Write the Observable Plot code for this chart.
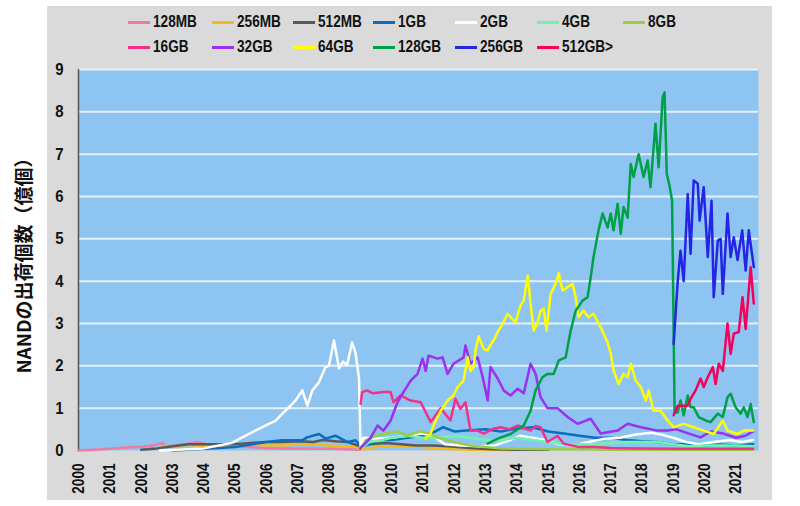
<!DOCTYPE html>
<html><head><meta charset="utf-8">
<script src="https://cdn.jsdelivr.net/npm/d3@7"></script>
<script src="https://cdn.jsdelivr.net/npm/@observablehq/plot@0.6"></script>
<style>
body{margin:0;background:#fff;}
#wrap{position:relative;width:800px;height:506px;overflow:hidden;}
#bg{position:absolute;left:47px;top:6px;width:725px;height:494px;background:#dadada;}
#legend{position:relative;height:60px;}
.item{position:absolute;display:flex;align-items:center;height:20px;font:bold 17px "Liberation Sans",Arial,sans-serif;color:#111;white-space:nowrap;}
.item .t{display:inline-block;transform:scaleX(0.8);transform-origin:0 50%;}
.sw{width:22px;height:3px;margin-right:3px;}
#chart{position:relative;}
#ytitle{position:absolute;left:22px;top:261px;transform:translate(-50%,-50%) rotate(-90deg);font:bold 19px "Noto Sans CJK JP",sans-serif;color:#111;white-space:nowrap;}
</style></head>
<body>
<div id="wrap">
<div id="bg"></div>
<div id="legend"></div>
<div id="chart"></div>
<div id="ytitle">NANDの出荷個数（億個）</div>
</div>
<script>
const seriesNames = ["128MB","256MB","512MB","1GB","2GB","4GB","8GB","16GB","32GB","64GB","128GB","256GB","512GB>"];
const seriesColors = ["#f07aa0","#f5b91e","#595959","#0b6cc0","#ffffff","#6ff5a8","#9acd47","#f2318a","#9b30f0","#ffff00","#00a047","#2525e6","#f5005a"];
const xTicks = d3.range(2000, 2022);
const yTicks = d3.range(0, 10);

const d128MB = [[2000.0,0],[2000.5,0.02],[2001.0,0.04],[2001.5,0.07],[2002.0,0.09],[2002.4,0.12],[2002.67,0.18],[2002.8,0.1],[2003.1,0.12],[2003.5,0.16],[2003.8,0.2],[2004.1,0.15],[2004.5,0.13],[2005.0,0.1],[2005.5,0.08],[2006.0,0.06],[2006.5,0.05],[2007.0,0.05],[2007.5,0.04],[2008.0,0.04],[2008.5,0.03],[2009.0,0.02]];
const d256MB = [[2002.6,0.05],[2002.8,0.12],[2003.0,0.08],[2003.5,0.06],[2004.0,0.08],[2004.5,0.1],[2005.0,0.12],[2005.5,0.14],[2006.0,0.12],[2006.5,0.12],[2007.0,0.14],[2007.5,0.15],[2008.0,0.12],[2008.5,0.1],[2008.9,0.08],[2009.05,0.03],[2009.5,0.08],[2010.0,0.1],[2010.5,0.1],[2011.0,0.08],[2011.5,0.05],[2012.0,0.03],[2012.5,0.02],[2013.0,0.02],[2014.0,0.01]];
const d512MB = [[2002.0,0.02],[2002.5,0.05],[2003.0,0.1],[2003.5,0.15],[2004.0,0.15],[2004.5,0.15],[2005.0,0.15],[2005.5,0.18],[2006.0,0.2],[2006.5,0.2],[2007.0,0.22],[2007.5,0.2],[2007.8,0.25],[2008.2,0.22],[2008.6,0.2],[2009.0,0.1],[2009.3,0.15],[2009.8,0.18],[2010.3,0.15],[2010.8,0.12],[2011.3,0.12],[2011.8,0.1],[2012.5,0.06],[2013.2,0.03],[2014.0,0.02],[2015.0,0.02]];
const d1GB = [[2003.0,0],[2003.5,0.02],[2004.0,0.04],[2004.5,0.06],[2005.0,0.08],[2005.65,0.16],[2006.0,0.2],[2006.5,0.24],[2007.15,0.24],[2007.3,0.31],[2007.68,0.39],[2007.9,0.28],[2008.2,0.35],[2008.6,0.2],[2008.85,0.24],[2009.02,0.1],[2009.3,0.15],[2009.6,0.25],[2010.0,0.25],[2010.5,0.3],[2011.0,0.35],[2011.4,0.45],[2011.65,0.55],[2012.0,0.45],[2012.5,0.48],[2013.0,0.5],[2013.5,0.45],[2014.0,0.52],[2014.5,0.55],[2015.0,0.45],[2015.5,0.4],[2016.0,0.35],[2016.5,0.3],[2017.0,0.3],[2017.5,0.25],[2018.0,0.22],[2018.5,0.2],[2019.0,0.15],[2019.5,0.15],[2020.0,0.12],[2020.5,0.14],[2021.0,0.12],[2021.55,0.15]];
const d2GB = [[2002.6,0],[2003.0,0.01],[2003.5,0.03],[2004.0,0.05],[2004.48,0.12],[2004.9,0.18],[2005.23,0.31],[2005.65,0.47],[2006.08,0.63],[2006.29,0.7],[2006.51,0.87],[2006.72,1.02],[2006.93,1.18],[2007.15,1.42],[2007.31,1.06],[2007.47,1.42],[2007.68,1.61],[2007.89,1.97],[2008.0,2.0],[2008.16,2.6],[2008.32,1.94],[2008.45,2.1],[2008.58,2.02],[2008.74,2.55],[2008.85,2.3],[2008.96,1.7],[2009.01,0.05],[2009.1,0.3],[2009.5,0.28],[2010.0,0.3],[2010.5,0.35],[2011.0,0.4],[2011.3,0.35],[2011.7,0.15],[2012.2,0.12],[2012.8,0.1],[2013.3,0.12],[2013.8,0.25],[2014.1,0.35],[2014.5,0.3],[2014.9,0.25],[2015.3,0.15],[2015.8,0.12],[2016.3,0.2],[2016.8,0.28],[2017.3,0.3],[2017.8,0.38],[2018.3,0.42],[2018.6,0.38],[2019.0,0.3],[2019.4,0.2],[2019.8,0.15],[2020.3,0.2],[2020.8,0.25],[2021.2,0.2],[2021.55,0.25]];
const d4GB = [[2009.0,0.05],[2009.3,0.2],[2009.7,0.25],[2010.0,0.3],[2010.5,0.35],[2011.0,0.3],[2011.5,0.3],[2012.0,0.35],[2012.5,0.3],[2013.0,0.25],[2013.5,0.25],[2014.0,0.3],[2014.5,0.25],[2015.0,0.2],[2015.5,0.15],[2016.0,0.15],[2016.5,0.15],[2017.0,0.18],[2017.5,0.2],[2018.0,0.2],[2018.5,0.2],[2019.0,0.15],[2019.5,0.1],[2020.0,0.12],[2020.5,0.12],[2021.0,0.12],[2021.55,0.1]];
const d8GB = [[2009.0,0.05],[2009.2,0.25],[2009.5,0.35],[2009.8,0.4],[2010.2,0.45],[2010.5,0.35],[2010.9,0.45],[2011.2,0.4],[2011.5,0.3],[2012.0,0.2],[2012.5,0.12],[2013.0,0.08],[2013.5,0.05],[2014.0,0.04],[2015.0,0.03],[2016.0,0.03],[2017.0,0.02],[2018.0,0.02],[2019.0,0.02],[2020.0,0.02],[2021.55,0.02]];
const d16GB = [[2009.01,1.1],[2009.06,1.38],[2009.22,1.42],[2009.4,1.35],[2009.74,1.38],[2009.97,1.38],[2010.06,1.14],[2010.29,1.3],[2010.61,1.18],[2010.93,1.14],[2011.25,0.67],[2011.57,1.0],[2011.88,0.71],[2012.04,1.22],[2012.2,0.98],[2012.36,1.14],[2012.52,0.47],[2012.75,0.47],[2012.94,0.4],[2013.2,0.5],[2013.48,0.55],[2013.75,0.5],[2014.03,0.59],[2014.25,0.52],[2014.44,0.47],[2014.6,0.58],[2014.76,0.55],[2014.98,0.2],[2015.3,0.35],[2015.5,0.16],[2016.0,0.08],[2016.5,0.08],[2017.0,0.06],[2018.0,0.05],[2019.0,0.04],[2020.0,0.04],[2021.0,0.04],[2021.55,0.04]];
const d32GB = [[2009.0,0.05],[2009.06,0.1],[2009.33,0.3],[2009.55,0.59],[2009.74,0.47],[2009.97,0.71],[2010.19,1.14],[2010.38,1.38],[2010.61,1.65],[2010.83,1.81],[2010.99,2.17],[2011.09,1.88],[2011.18,2.24],[2011.47,2.17],[2011.63,2.2],[2011.79,1.81],[2011.98,2.05],[2012.3,2.2],[2012.36,2.48],[2012.52,2.05],[2012.75,2.2],[2012.91,1.73],[2013.07,1.18],[2013.16,1.97],[2013.39,1.7],[2013.58,1.42],[2013.8,1.3],[2014.03,1.46],[2014.22,1.35],[2014.44,2.05],[2014.6,1.81],[2014.76,1.26],[2014.98,1.0],[2015.3,1.0],[2015.62,0.79],[2015.94,0.63],[2016.36,0.75],[2016.68,0.4],[2017.22,0.47],[2017.54,0.63],[2017.96,0.55],[2018.5,0.47],[2018.82,0.47],[2019.1,0.5],[2019.5,0.4],[2019.87,0.31],[2020.2,0.45],[2020.6,0.4],[2021.0,0.3],[2021.3,0.35],[2021.55,0.45]];
const d64GB = [[2011.09,0.28],[2011.25,0.4],[2011.34,0.59],[2011.57,0.94],[2011.79,1.18],[2011.98,1.3],[2012.11,1.5],[2012.3,1.65],[2012.43,2.2],[2012.52,1.88],[2012.62,1.97],[2012.68,2.36],[2012.78,2.7],[2012.94,2.4],[2013.07,2.36],[2013.16,2.5],[2013.26,2.6],[2013.39,2.8],[2013.55,3.0],[2013.71,3.23],[2013.96,3.03],[2014.12,3.43],[2014.22,3.54],[2014.35,4.13],[2014.44,3.47],[2014.54,2.83],[2014.66,3.0],[2014.76,3.3],[2014.86,3.35],[2014.95,2.83],[2015.08,3.7],[2015.24,3.94],[2015.34,4.19],[2015.46,3.78],[2015.62,3.86],[2015.78,3.94],[2015.88,3.62],[2015.97,3.15],[2016.13,3.3],[2016.29,3.15],[2016.45,3.23],[2016.68,2.91],[2016.9,2.55],[2017.0,2.3],[2017.09,1.9],[2017.25,1.57],[2017.41,1.81],[2017.54,1.73],[2017.64,2.05],[2017.8,1.65],[2017.96,1.5],[2018.12,1.18],[2018.21,1.42],[2018.37,0.94],[2018.59,0.94],[2018.82,0.71],[2019.01,0.55],[2019.33,0.63],[2019.65,0.55],[2019.97,0.47],[2020.29,0.39],[2020.58,0.71],[2020.73,0.47],[2021.05,0.39],[2021.25,0.47],[2021.55,0.47]];
const d128GB = [[2013.07,0.16],[2013.39,0.28],[2013.8,0.39],[2014.22,0.59],[2014.44,0.94],[2014.6,1.42],[2014.82,1.73],[2014.98,1.81],[2015.18,1.81],[2015.34,2.13],[2015.56,2.2],[2015.72,2.83],[2015.88,3.3],[2016.1,3.54],[2016.26,3.62],[2016.36,4.09],[2016.45,4.57],[2016.61,5.2],[2016.74,5.6],[2016.9,5.27],[2017.0,5.6],[2017.09,5.2],[2017.22,5.83],[2017.32,5.12],[2017.41,5.75],[2017.54,5.5],[2017.64,6.77],[2017.73,6.46],[2017.89,7.0],[2018.05,6.46],[2018.18,6.85],[2018.27,6.22],[2018.43,7.72],[2018.53,6.69],[2018.66,8.35],[2018.72,8.46],[2018.79,6.54],[2018.88,6.25],[2018.96,5.9],[2019.04,0.9],[2019.14,0.9],[2019.23,1.18],[2019.33,0.83],[2019.46,1.3],[2019.55,1.02],[2019.65,1.02],[2019.81,0.79],[2020.03,0.71],[2020.19,0.67],[2020.42,0.87],[2020.58,0.79],[2020.73,1.26],[2020.83,1.34],[2020.99,1.02],[2021.15,0.87],[2021.25,1.02],[2021.37,0.79],[2021.47,1.1],[2021.57,0.67]];
const d256GB = [[2019.01,2.52],[2019.14,4.0],[2019.23,4.72],[2019.33,4.0],[2019.46,6.06],[2019.55,4.65],[2019.65,6.38],[2019.78,6.3],[2019.84,5.43],[2019.97,6.22],[2020.1,4.57],[2020.22,5.9],[2020.29,3.62],[2020.42,4.96],[2020.51,5.0],[2020.58,3.7],[2020.73,5.6],[2020.83,4.57],[2020.93,5.04],[2021.05,4.5],[2021.2,5.2],[2021.31,4.25],[2021.41,5.2],[2021.57,4.33]];
const d512GB = [[2019.01,0.83],[2019.14,1.06],[2019.46,1.06],[2019.55,1.22],[2019.71,1.42],[2019.87,1.7],[2019.97,1.5],[2020.1,1.73],[2020.26,1.97],[2020.35,1.57],[2020.45,2.05],[2020.58,1.88],[2020.73,3.0],[2020.83,2.28],[2020.93,2.76],[2021.09,2.8],[2021.21,3.62],[2021.31,2.87],[2021.47,4.33],[2021.57,3.47]];

const seriesData = [d128MB,d256MB,d512MB,d1GB,d2GB,d4GB,d8GB,d16GB,d32GB,d64GB,d128GB,d256GB,d512GB];
const table = seriesData.flatMap((arr, i) => arr.map(([year, value]) => ({series: seriesNames[i], year, value})));

// legend
const legend = document.getElementById("legend");
const colX = [128, 212, 293, 373, 455, 537, 623];
seriesNames.forEach((name, i) => {
  const row = i < 7 ? 0 : 1;
  const col = i < 7 ? i : i - 7;
  const el = document.createElement("div");
  el.className = "item";
  el.style.left = colX[col] + "px";
  el.style.top = (row === 0 ? 12 : 37) + "px";
  const sw = document.createElement("span");
  sw.className = "sw";
  sw.style.background = seriesColors[i];
  el.appendChild(sw);
  const t = document.createElement("span");
  t.className = "t";
  t.textContent = name;
  el.appendChild(t);
  legend.appendChild(el);
});

const fontStack = '"Liberation Sans",Arial,sans-serif';
const chart = Plot.plot({
  width: 800,
  height: 446,
  marginLeft: 78,
  marginRight: 42,
  marginTop: 9,
  marginBottom: 56,
  x: {domain: [2000, 2021.72]},
  y: {domain: [0, 9]},
  color: {domain: seriesNames, range: seriesColors},
  style: {background: "transparent", fontFamily: fontStack, fontSize: "17px", fontWeight: "bold", color: "#111"},
  marks: [
    Plot.frame({fill: "#8ec4f2", stroke: null}),
    Plot.ruleY(yTicks.filter(d => d > 0), {stroke: "#e4f0fb", strokeWidth: 2}),
    Plot.ruleX([2000], {stroke: "#555", strokeWidth: 1.5}),
    Plot.axisY({ticks: yTicks, tickSize: 0, tickPadding: 15, label: null, fontSize: 17, tickFormat: d => String(d)}),
    Plot.axisX({ticks: xTicks, tickSize: 0, tickPadding: 13, tickRotate: -90, label: null, fontSize: 17, tickFormat: d => String(d)}),
    Plot.line(table, {x: "year", y: "value", z: "series", stroke: "series", strokeWidth: 2.5, strokeLinejoin: "round"})
  ]
});

// condense tick label glyphs along their reading direction
function squeeze(sel, s) {
  sel.each(function () {
    const t = this.getAttribute("transform");
    if (t) {
      this.setAttribute("transform", t + ` scale(${s},1)`);
    } else {
      const x = +this.getAttribute("x") || 0, y = +this.getAttribute("y") || 0;
      this.removeAttribute("x"); this.removeAttribute("y");
      this.setAttribute("transform", `translate(${x},${y}) scale(${s},1)`);
    }
  });
}
squeeze(d3.select(chart).selectAll('g[aria-label="x-axis tick label"] text'), 0.8);
squeeze(d3.select(chart).selectAll('g[aria-label="y-axis tick label"] text'), 0.88);

document.getElementById("chart").appendChild(chart);
</script>
</body></html>
